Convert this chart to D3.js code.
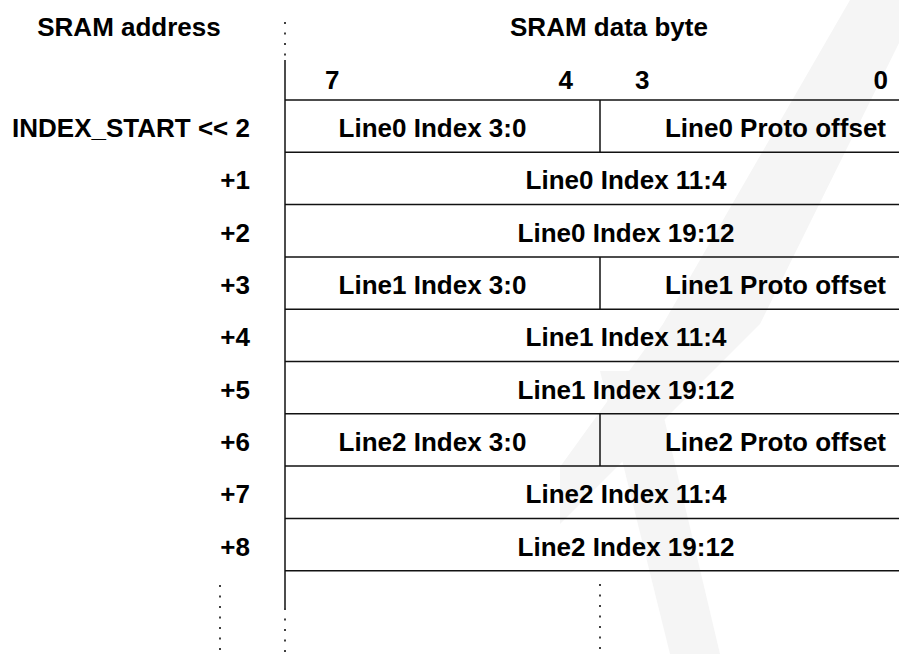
<!DOCTYPE html>
<html><head><meta charset="utf-8">
<script src="https://cdn.jsdelivr.net/npm/d3@7"></script>
<style>body{margin:0;background:#fff}svg{display:block}text{font-family:"Liberation Sans",Arial,Helvetica,sans-serif;font-weight:bold;fill:#000}</style>
</head><body>
<svg id="c" width="899" height="654"></svg>
<script>
const addresses = ["INDEX_START << 2","+1","+2","+3","+4","+5","+6","+7","+8"];
// each row: either one full-byte field or two nibble fields [high, low]
const fields = [
  ["Line0 Index 3:0","Line0 Proto offset"],
  ["Line0 Index 11:4"],
  ["Line0 Index 19:12"],
  ["Line1 Index 3:0","Line1 Proto offset"],
  ["Line1 Index 11:4"],
  ["Line1 Index 19:12"],
  ["Line2 Index 3:0","Line2 Proto offset"],
  ["Line2 Index 11:4"],
  ["Line2 Index 19:12"]
];
const bitLabels = [7,4,3,0];
const headers = ["SRAM address","SRAM data byte"];

const svg = d3.select("#c");
const FS = 26;
const rowsAll = d3.range(addresses.length + 1);
const y = d3.scaleBand().domain(rowsAll).range([100, 100 + 52.3*rowsAll.length]).paddingInner(0).paddingOuter(0);
const x = d3.scaleLinear().domain([8,4,0]).range([285,600,967]);

// faint background watermark
const wm = [
  [[850,0],[899,0],[899,43],[760,324],[560,524],[560,467],[663,324]],
  [[600,371],[653,371],[720,654],[670,654]]
];
svg.selectAll("path.wm").data(wm).join("path").attr("class","wm")
  .attr("d",d=>d3.line()(d)+"Z").attr("fill","#f5f5f5");

// header texts
svg.append("text").attr("x",129).attr("y",36).attr("text-anchor","middle").attr("font-size",FS).text(headers[0]);
svg.append("text").attr("x",609).attr("y",36).attr("text-anchor","middle").attr("font-size",FS).text(headers[1]);

// bit labels
const bitPos = {7:{x:x(8)+40,a:"start"},4:{x:x(4)-27,a:"end"},3:{x:x(4)+35,a:"start"},0:{x:888,a:"end"}};
svg.selectAll("text.bit").data(bitLabels).join("text").attr("class","bit")
  .attr("x",d=>bitPos[d].x).attr("y",89).attr("text-anchor",d=>bitPos[d].a).attr("font-size",FS).text(d=>d);

// horizontal row lines
const hl = d3.range(addresses.length + 1).map(i => i===0 ? y.range()[0] : y(i-1)+y.bandwidth());
svg.selectAll("line.h").data(hl).join("line").attr("class","h")
  .attr("x1",x(8)).attr("x2",899).attr("y1",d=>d).attr("y2",d=>d)
  .attr("stroke","#111").attr("stroke-width",1.5);

// main vertical solid line
svg.append("line").attr("x1",x(8)).attr("x2",x(8)).attr("y1",60).attr("y2",608).attr("stroke","#111").attr("stroke-width",1.5);

// split dividers
fields.forEach((f,i)=>{
  if(f.length===2){
    svg.append("line").attr("x1",x(4)).attr("x2",x(4)).attr("y1",y(i)).attr("y2",y(i)+y.bandwidth()).attr("stroke","#111").attr("stroke-width",1.5);
  }
});

// dotted lines
const dots = [[x(8),22,60],[x(8),608,652],[220,585,652],[x(4),584,652]];
svg.selectAll("line.dot").data(dots).join("line").attr("class","dot")
  .attr("x1",d=>d[0]).attr("x2",d=>d[0]).attr("y1",d=>d[1]).attr("y2",d=>d[2])
  .attr("stroke","#000").attr("stroke-width",1.5).attr("stroke-dasharray","2,8.5");

// address labels
svg.selectAll("text.addr").data(addresses).join("text").attr("class","addr")
  .attr("x",250).attr("y",(d,i)=>y(i)+y.bandwidth()/2+11).attr("text-anchor","end").attr("font-size",FS).text(d=>d);

// field labels
fields.forEach((f,i)=>{
  const cy = y(i)+y.bandwidth()/2+11;
  if(f.length===1){
    svg.append("text").attr("x",(x(8)+x(0))/2).attr("y",cy).attr("text-anchor","middle").attr("font-size",FS).text(f[0]);
  } else {
    svg.append("text").attr("x",(x(8)+x(4))/2-10).attr("y",cy).attr("text-anchor","middle").attr("font-size",FS).text(f[0]);
    svg.append("text").attr("x",886).attr("y",cy).attr("text-anchor","end").attr("font-size",FS).text(f[1]);
  }
});
</script>
</body></html>
